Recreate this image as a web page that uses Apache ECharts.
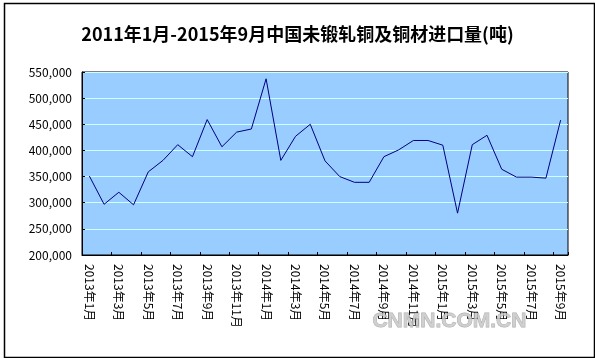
<!DOCTYPE html>
<html>
<head>
<meta charset="utf-8">
<script src="https://cdn.jsdelivr.net/npm/echarts@6/dist/echarts.min.js"></script>
<style>html,body{margin:0;padding:0;background:#fff;}#c{width:595px;height:358px;}</style>
</head>
<body>
<div id="c"></div>
<script>
var titleText = '2011年1月-2015年9月中国未锻轧铜及铜材进口量(吨)';
var categories = [
  '2013年1月','2013年2月','2013年3月','2013年4月','2013年5月','2013年6月','2013年7月','2013年8月',
  '2013年9月','2013年10月','2013年11月','2013年12月',
  '2014年1月','2014年2月','2014年3月','2014年4月','2014年5月','2014年6月','2014年7月','2014年8月',
  '2014年9月','2014年10月','2014年11月','2014年12月',
  '2015年1月','2015年2月','2015年3月','2015年4月','2015年5月','2015年6月','2015年7月','2015年8月','2015年9月'
];
var imports = [
  351000, 297000, 320000, 296000, 359000, 381000, 411000, 388000,
  459000, 407000, 435000, 441000,
  537000, 381000, 427000, 450000, 380000, 350000, 339000, 339000,
  388000, 401000, 419000, 419000,
  410000, 280000, 411000, 429000, 364000, 349000, 349000, 347000, 458000
];
var yMin = 200000, yMax = 550000, yStep = 50000;
var watermark = 'CNMN.COM.CN';

var chart = echarts.init(document.getElementById('c'), null, {renderer: 'canvas'});
var font = '"Noto Sans CJK SC", "DejaVu Sans", sans-serif';
chart.setOption({
  animation: false,
  backgroundColor: '#ffffff',
  title: {
    text: titleText,
    left: 'center',
    top: 20,
    textStyle: {fontFamily: font, fontSize: 18, fontWeight: 'bold', color: '#000'}
  },
  grid: {
    left: 82, right: 27, top: 72, bottom: 103,
    show: true, backgroundColor: '#99CCFF', borderColor: '#000', borderWidth: 1
  },
  xAxis: {
    type: 'category',
    data: categories,
    boundaryGap: true,
    axisLine: {lineStyle: {color: '#000', width: 1}},
    axisTick: {show: true, inside: true, length: 3, interval: 1, lineStyle: {color: '#000'}},
    axisLabel: {
      interval: 1, rotate: -90, margin: 9,
      fontFamily: font, fontSize: 12, color: '#000'
    },
    splitLine: {show: false}
  },
  yAxis: {
    type: 'value',
    min: yMin, max: yMax, interval: yStep,
    axisLine: {show: true, lineStyle: {color: '#000', width: 1}},
    axisTick: {show: true, inside: true, length: 3, lineStyle: {color: '#000'}},
    axisLabel: {
      margin: 10, fontFamily: font, fontSize: 12, color: '#000',
      formatter: function (v) { return v.toLocaleString('en-US'); }
    },
    splitLine: {show: true, lineStyle: {color: '#CCFFFF', width: 1}}
  },
  series: [{
    type: 'line',
    data: imports,
    symbol: 'none',
    lineStyle: {color: '#000080', width: 1},
    z: 3
  }],
  graphic: [
    {
      type: 'rect', left: 2, top: 1, z: 100, silent: true,
      shape: {width: 590, height: 354},
      style: {fill: 'none', stroke: '#000', lineWidth: 1.5}
    },
    {
      type: 'text', left: 372, top: 310, z: 100, silent: true,
      style: {
        text: watermark, fontFamily: '"Liberation Sans", Arial, sans-serif',
        fontSize: 21, fontWeight: 'bold', fill: 'rgba(200,200,200,0.85)',
        stroke: 'rgba(120,120,120,0.6)', lineWidth: 0.8
      }
    }
  ]
});
</script>
</body>
</html>
